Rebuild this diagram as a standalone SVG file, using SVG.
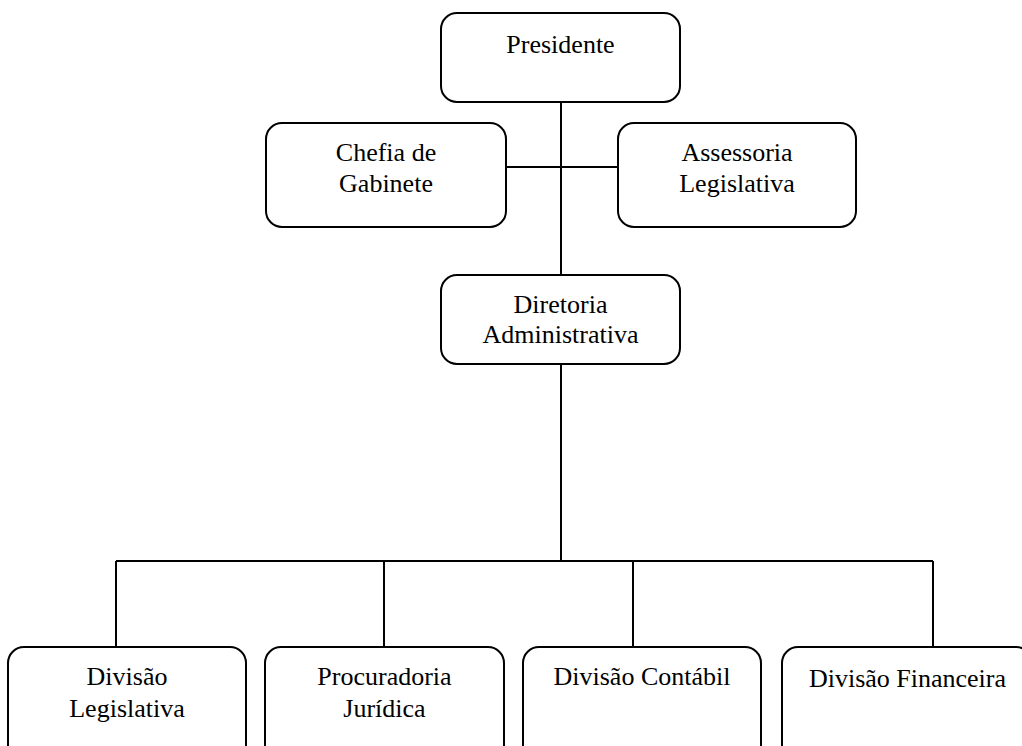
<svg xmlns="http://www.w3.org/2000/svg" width="1022" height="746" viewBox="0 0 1022 746">
<style>
.box{fill:#fff;stroke:#000;stroke-width:2}
.lbl{font-family:"Liberation Serif","Times New Roman",serif;font-size:26px;fill:#000;text-anchor:middle}
.con{stroke:#000;stroke-width:2;fill:none}
</style>
<rect width="1022" height="746" fill="#fff"/>
<g id="connectors">
<path class="con" d="M561 102V276"/>
<path class="con" d="M506 167H618"/>
<path class="con" d="M561 364V561"/>
<path class="con" d="M116 561H933"/>
<path class="con" d="M116 561V647M384 561V647M633 561V647M933 561V647"/>
</g>
<g id="presidente">
<rect class="box" x="441" y="13" width="239" height="89" rx="16"/>
<text class="lbl" x="560.5" y="53">Presidente</text>
</g>
<g id="chefia">
<rect class="box" x="266" y="123" width="240" height="104" rx="16"/>
<text class="lbl" x="386" y="161">Chefia de</text>
<text class="lbl" x="386" y="192">Gabinete</text>
</g>
<g id="assessoria">
<rect class="box" x="618" y="123" width="238" height="104" rx="16"/>
<text class="lbl" x="737" y="161">Assessoria</text>
<text class="lbl" x="737" y="192">Legislativa</text>
</g>
<g id="diretoria">
<rect class="box" x="441" y="275" width="239" height="89" rx="16"/>
<text class="lbl" x="560.5" y="313">Diretoria</text>
<text class="lbl" x="560.5" y="343">Administrativa</text>
</g>
<g id="div-legislativa">
<rect class="box" x="8" y="647" width="238" height="120" rx="16"/>
<text class="lbl" x="127" y="685">Divisão</text>
<text class="lbl" x="127" y="717">Legislativa</text>
</g>
<g id="procuradoria">
<rect class="box" x="265" y="647" width="239" height="120" rx="16"/>
<text class="lbl" x="384.5" y="685">Procuradoria</text>
<text class="lbl" x="384.5" y="717">Jurídica</text>
</g>
<g id="div-contabil">
<rect class="box" x="523" y="647" width="238" height="120" rx="16"/>
<text class="lbl" x="642" y="685">Divisão Contábil</text>
</g>
<g id="div-financeira">
<rect class="box" x="782" y="647" width="250" height="120" rx="16"/>
<text class="lbl" x="907.5" y="687">Divisão Financeira</text>
</g>
</svg>
